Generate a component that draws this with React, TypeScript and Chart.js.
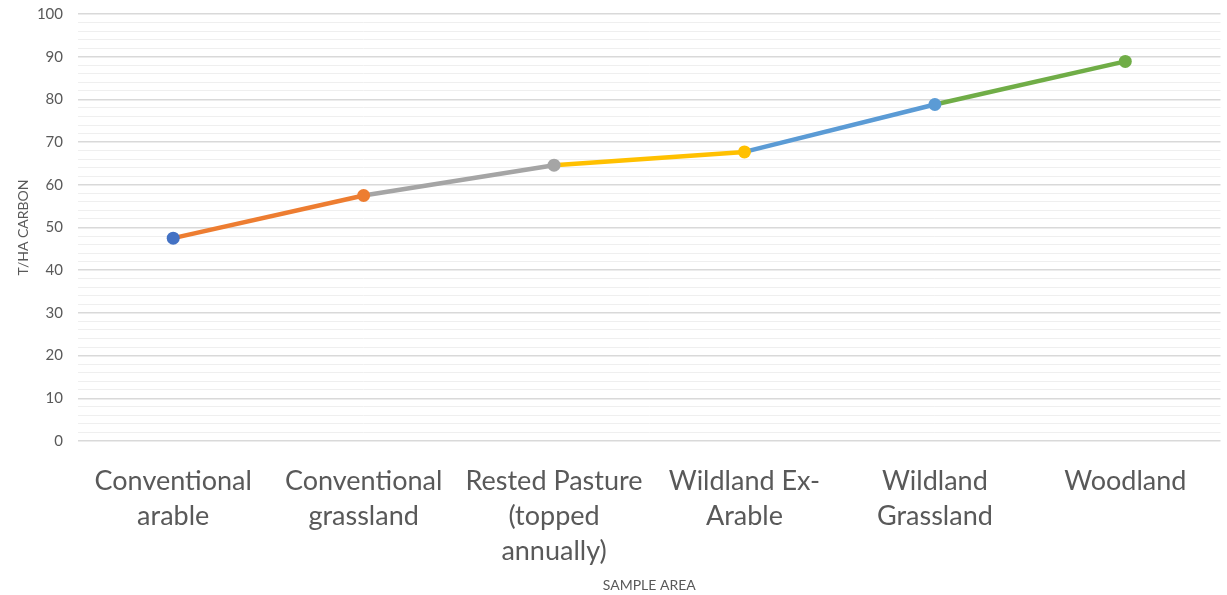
import React, { useEffect, useRef } from "react";
import { Chart, registerables } from "chart.js";

Chart.register(...registerables);

const categories: string[][] = [
  ["Conventional", "arable"],
  ["Conventional", "grassland"],
  ["Rested Pasture", "(topped", "annually)"],
  ["Wildland Ex-", "Arable"],
  ["Wildland", "Grassland"],
  ["Woodland"],
];
const carbonValues: number[] = [47.5, 57.5, 64.6, 67.7, 78.8, 88.9];
const pointColors: string[] = ["#4472C4", "#ED7D31", "#A5A5A5", "#FFC000", "#5B9BD5", "#70AD47"];
const yTitle = "T/HA CARBON";
const xTitle = "SAMPLE AREA";

export default function App() {
  const ref = useRef<HTMLCanvasElement | null>(null);
  useEffect(() => {
    if (!ref.current) return;
    const chart = new Chart(ref.current, {
      type: "line",
      data: {
        labels: categories,
        datasets: [
          {
            data: carbonValues,
            borderWidth: 4.5,
            pointRadius: 6.5,
            pointBorderWidth: 0,
            pointBackgroundColor: pointColors,
            pointBorderColor: pointColors,
            tension: 0,
            segment: {
              borderColor: (ctx: any) => pointColors[ctx.p1DataIndex],
            },
          },
        ],
      },
      options: {
        animation: false,
        responsive: false,
        maintainAspectRatio: false,
        layout: { padding: { top: 14, right: 5, left: 0, bottom: 0 } },
        plugins: { legend: { display: false }, tooltip: { enabled: false } },
        scales: {
          x: {
            offset: true,
            grid: { display: false },
            border: { display: false },
            ticks: {
              autoSkip: false,
              maxRotation: 0,
              minRotation: 0,
              color: "#595959",
              padding: 15,
              font: { family: "Lato", size: 27, lineHeight: 1.3 },
            },
            title: {
              display: true,
              text: xTitle,
              color: "#595959",
              font: { family: "Lato", size: 14 },
              padding: { top: 0, bottom: 1 },
            },
            afterFit: (scale: any) => {
              scale.height = 595 - 441;
            },
          },
          y: {
            min: 0,
            max: 100,
            border: { display: false },
            grid: {
              color: (ctx: any) => (ctx.tick && ctx.tick.value % 10 === 0 ? "#d9d9d9" : "#efefef"),
              lineWidth: (ctx: any) => (ctx.tick && ctx.tick.value % 10 === 0 ? 1.5 : 1),
              drawTicks: false,
            },
            ticks: {
              stepSize: 2,
              autoSkip: false,
              color: "#595959",
              padding: 15,
              font: { family: "Lato", size: 15 },
              callback: (v: any) => (Number(v) % 10 === 0 ? String(v) : ""),
            },
            title: {
              display: true,
              text: yTitle,
              color: "#595959",
              font: { family: "Lato", size: 14 },
              padding: { top: 15, bottom: 0 },
            },
            afterFit: (scale: any) => {
              scale.width = 78;
              scale.paddingTop = 0;
              scale.paddingBottom = 0;
            },
          },
        },
      },
    });
    return () => chart.destroy();
  }, []);
  return (
    <div style={{ position: "absolute", left: 0, top: 0, width: 1227, height: 595, background: "#fff" }}>
      <canvas ref={ref} width={1227} height={595} style={{ width: 1227, height: 595 }} />
    </div>
  );
}
